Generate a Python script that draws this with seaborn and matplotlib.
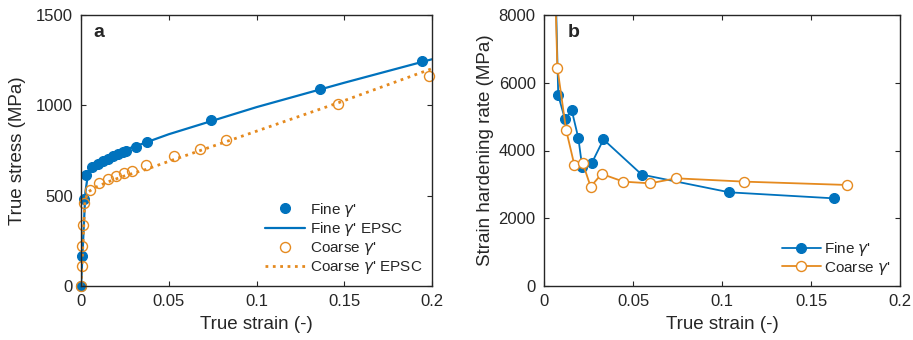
import matplotlib
matplotlib.use("Agg")
import matplotlib.pyplot as plt
import seaborn as sns

# ---- Panel a: true stress vs true strain ----
fine_strain = [0.0, 0.0007, 0.0018, 0.0028, 0.0061, 0.0098, 0.0127, 0.0155, 0.0184,
               0.0212, 0.0240, 0.0256, 0.0313, 0.0377, 0.0743, 0.1362, 0.1945]
fine_stress = [0, 165, 480, 617, 657, 676, 691, 704, 717,
               728, 741, 750, 768, 796, 920, 1093, 1244]

fine_epsc_strain = [0.0, 0.0025, 0.004, 0.006, 0.009, 0.013, 0.02, 0.03,
                    0.05, 0.1, 0.15, 0.2]
fine_epsc_stress = [0, 520, 620, 665, 690, 710, 740, 770,
                    840, 990, 1125, 1255]

coarse_strain = [0.0, 0.0004, 0.0008, 0.0012, 0.0017, 0.0051, 0.0104, 0.0152,
                 0.0199, 0.0244, 0.0288, 0.0373, 0.0530, 0.0680, 0.0824,
                 0.1462, 0.1983]
coarse_stress = [0, 110, 220, 335, 462, 533, 568, 593,
                 611, 624, 635, 667, 717, 759, 809,
                 1006, 1161]

coarse_epsc_strain = [0.0, 0.0022, 0.004, 0.008, 0.015, 0.025, 0.037, 0.05,
                      0.068, 0.083, 0.1, 0.146, 0.2]
coarse_epsc_stress = [0, 470, 520, 545, 575, 610, 645, 690,
                      750, 800, 857, 1012, 1203]

# ---- Panel b: strain hardening rate ----
fine_hr_strain = [0.0060, 0.0080, 0.0118, 0.0156, 0.0193, 0.0215, 0.0268,
                  0.0334, 0.0549, 0.1042, 0.1631]
fine_hr = [10000, 5630, 4920, 5185, 4365, 3500, 3625,
           4326, 3289, 2765, 2587]

coarse_hr_strain = [0.0060, 0.0075, 0.0124, 0.0170, 0.0217, 0.0262, 0.0324,
                    0.0446, 0.0596, 0.0742, 0.1125, 0.1700]
coarse_hr = [9400, 6450, 4613, 3585, 3635, 2933, 3309,
             3081, 3031, 3179, 3081, 2983]

BLUE = "#0072BD"
ORANGE = "#E58A1F"
SPINE = "#262626"

sns.set_theme(style="ticks")
plt.rcParams["font.family"] = ["Liberation Sans", "DejaVu Sans"]
plt.rcParams["mathtext.fontset"] = "dejavusans"

fig = plt.figure(figsize=(9.13, 3.4), dpi=100)
ax_a = fig.add_axes([81 / 913, 54 / 340, 351 / 913, 271 / 340])
ax_b = fig.add_axes([544 / 913, 54 / 340, 356 / 913, 271 / 340])

MS = 7.2

# Panel a (markers may sit on the axis edge, so they are not clipped)
sns.lineplot(x=fine_strain, y=fine_stress, sort=False, ax=ax_a, linestyle="none",
             marker="o", markersize=MS, color=BLUE, markerfacecolor=BLUE,
             markeredgecolor=BLUE, label=r"Fine $\gamma$'", clip_on=False)
sns.lineplot(x=fine_epsc_strain, y=fine_epsc_stress, sort=False, ax=ax_a,
             color=BLUE, linewidth=1.6, label=r"Fine $\gamma$' EPSC")
sns.lineplot(x=coarse_strain, y=coarse_stress, sort=False, ax=ax_a, linestyle="none",
             marker="o", markersize=MS, color=ORANGE, markerfacecolor="none",
             markeredgecolor=ORANGE, markeredgewidth=1.0, label=r"Coarse $\gamma$'",
             clip_on=False)
sns.lineplot(x=coarse_epsc_strain, y=coarse_epsc_stress, sort=False, ax=ax_a,
             color=ORANGE, linewidth=2.0, linestyle=":", label=r"Coarse $\gamma$' EPSC")

ax_a.set_xlim(0, 0.2)
ax_a.set_ylim(0, 1500)
ax_a.set_xticks([0, 0.05, 0.1, 0.15, 0.2])
ax_a.set_xticklabels(["0", "0.05", "0.1", "0.15", "0.2"])
ax_a.set_yticks([0, 500, 1000, 1500])
ax_a.set_xlabel("True strain (-)", labelpad=5)
ax_a.set_ylabel("True stress (MPa)", labelpad=7)
ax_a.text(0.034, 0.919, "a", transform=ax_a.transAxes, fontsize=14,
          fontweight="bold", va="baseline", ha="left")
ax_a.legend(loc="lower right", frameon=False, fontsize=11, handlelength=2.6,
            handletextpad=0.3, labelspacing=0.12, borderaxespad=0.25)

# Panel b
sns.lineplot(x=fine_hr_strain, y=fine_hr, sort=False, ax=ax_b, color=BLUE,
             linewidth=1.3, marker="o", markersize=MS, markerfacecolor=BLUE,
             markeredgecolor=BLUE, label=r"Fine $\gamma$'")
sns.lineplot(x=coarse_hr_strain, y=coarse_hr, sort=False, ax=ax_b, color=ORANGE,
             linewidth=1.3, marker="o", markersize=MS, markerfacecolor="white",
             markeredgecolor=ORANGE, markeredgewidth=1.0, label=r"Coarse $\gamma$'")

ax_b.set_xlim(0, 0.2)
ax_b.set_ylim(0, 8000)
ax_b.set_xticks([0, 0.05, 0.1, 0.15, 0.2])
ax_b.set_xticklabels(["0", "0.05", "0.1", "0.15", "0.2"])
ax_b.set_yticks([0, 2000, 4000, 6000, 8000])
ax_b.set_xlabel("True strain (-)", labelpad=5)
ax_b.set_ylabel("Strain hardening rate (MPa)", labelpad=3)
ax_b.text(0.067, 0.919, "b", transform=ax_b.transAxes, fontsize=14,
          fontweight="bold", va="baseline", ha="left")
ax_b.legend(loc="lower right", frameon=False, fontsize=11, handlelength=2.6,
            handletextpad=0.2, labelspacing=0.12, borderaxespad=0.2)

for ax in (ax_a, ax_b):
    for s in ax.spines.values():
        s.set_visible(True)
        s.set_color(SPINE)
        s.set_linewidth(1.0)
    ax.tick_params(direction="in", length=3.5, width=0.8, color=SPINE,
                   labelsize=12, labelcolor="#262626", top=True, right=True,
                   bottom=True, left=True, pad=6)
    ax.xaxis.label.set_size(13.5)
    ax.yaxis.label.set_size(13.5)
    ax.xaxis.label.set_color("#262626")
    ax.yaxis.label.set_color("#262626")

fig.savefig("out.png", dpi=100, facecolor="white")
